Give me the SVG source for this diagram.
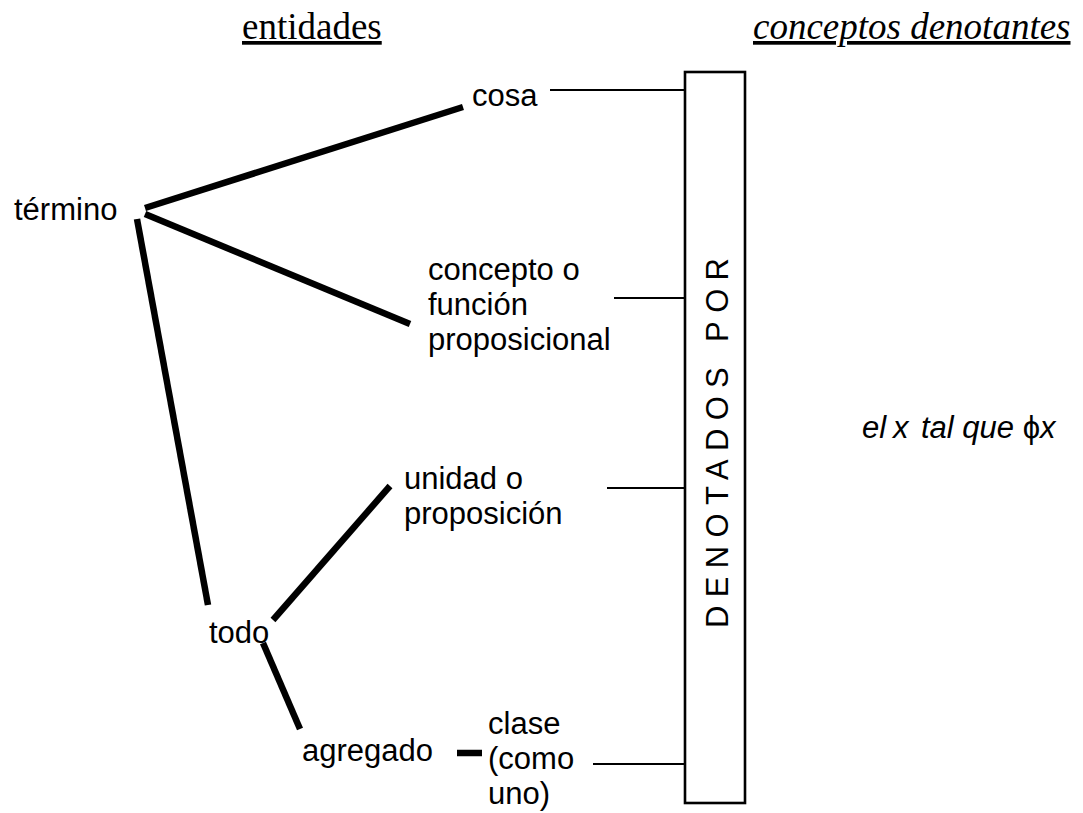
<svg xmlns="http://www.w3.org/2000/svg" width="1083" height="813" viewBox="0 0 1083 813">
<style>
.lbl{font-family:"Liberation Sans",Arial,sans-serif;font-size:31px;fill:#000}
.hdr{font-family:"Liberation Serif","Times New Roman",serif;font-size:37px;fill:#000;text-decoration:underline}
.thick{stroke:#000;stroke-width:6.5;fill:none}
.thin{stroke:#000;stroke-width:2.2;fill:none}
</style>
<rect width="1083" height="813" fill="#fff"/>
<g id="header-entidades"><text class="hdr" x="242" y="39">entidades</text></g>
<g id="header-conceptos"><text class="hdr" x="753" y="39" font-style="italic">conceptos denotantes</text></g>
<g id="box-denotados">
<rect x="685" y="72" width="60" height="731" fill="none" stroke="#000" stroke-width="2.6"/>
<text class="lbl" font-size="32" text-anchor="middle" textLength="370" lengthAdjust="spacing" transform="translate(728,443) rotate(-90)">DENOTADOS POR</text>
</g>
<g id="node-termino"><text class="lbl" x="14" y="220">término</text></g>
<g id="node-cosa"><text class="lbl" x="472" y="106">cosa</text></g>
<g id="node-concepto"><text class="lbl" x="428" y="280">concepto o</text><text class="lbl" x="428" y="315">función</text><text class="lbl" x="428" y="350">proposicional</text></g>
<g id="node-unidad"><text class="lbl" x="404" y="489">unidad o</text><text class="lbl" x="404" y="524">proposición</text></g>
<g id="node-todo"><text class="lbl" x="209" y="643">todo</text></g>
<g id="node-agregado"><text class="lbl" x="302" y="761">agregado</text></g>
<g id="node-clase"><text class="lbl" x="488" y="734">clase</text><text class="lbl" x="488" y="769">(como</text><text class="lbl" x="488" y="804">uno)</text></g>
<g id="node-elx"><text class="lbl" font-size="27" y="438" font-style="italic"><tspan x="862">el</tspan><tspan x="893">x</tspan><tspan x="921">tal que </tspan><tspan font-style="normal">ϕ</tspan><tspan>x</tspan></text></g>
<g id="connectors">
<line class="thick" x1="145" y1="208" x2="463" y2="107"/>
<line class="thick" x1="145" y1="214" x2="410" y2="324"/>
<line class="thick" x1="137" y1="219" x2="208" y2="605"/>
<line class="thick" x1="273" y1="620" x2="390" y2="486"/>
<line class="thick" x1="263" y1="643" x2="300" y2="729"/>
<line class="thick" x1="457" y1="753" x2="482" y2="753"/>
<line class="thin" x1="550" y1="90" x2="685" y2="90"/>
<line class="thin" x1="614" y1="298" x2="685" y2="298"/>
<line class="thin" x1="607" y1="488" x2="685" y2="488"/>
<line class="thin" x1="593" y1="764" x2="685" y2="764"/>
</g>
</svg>
